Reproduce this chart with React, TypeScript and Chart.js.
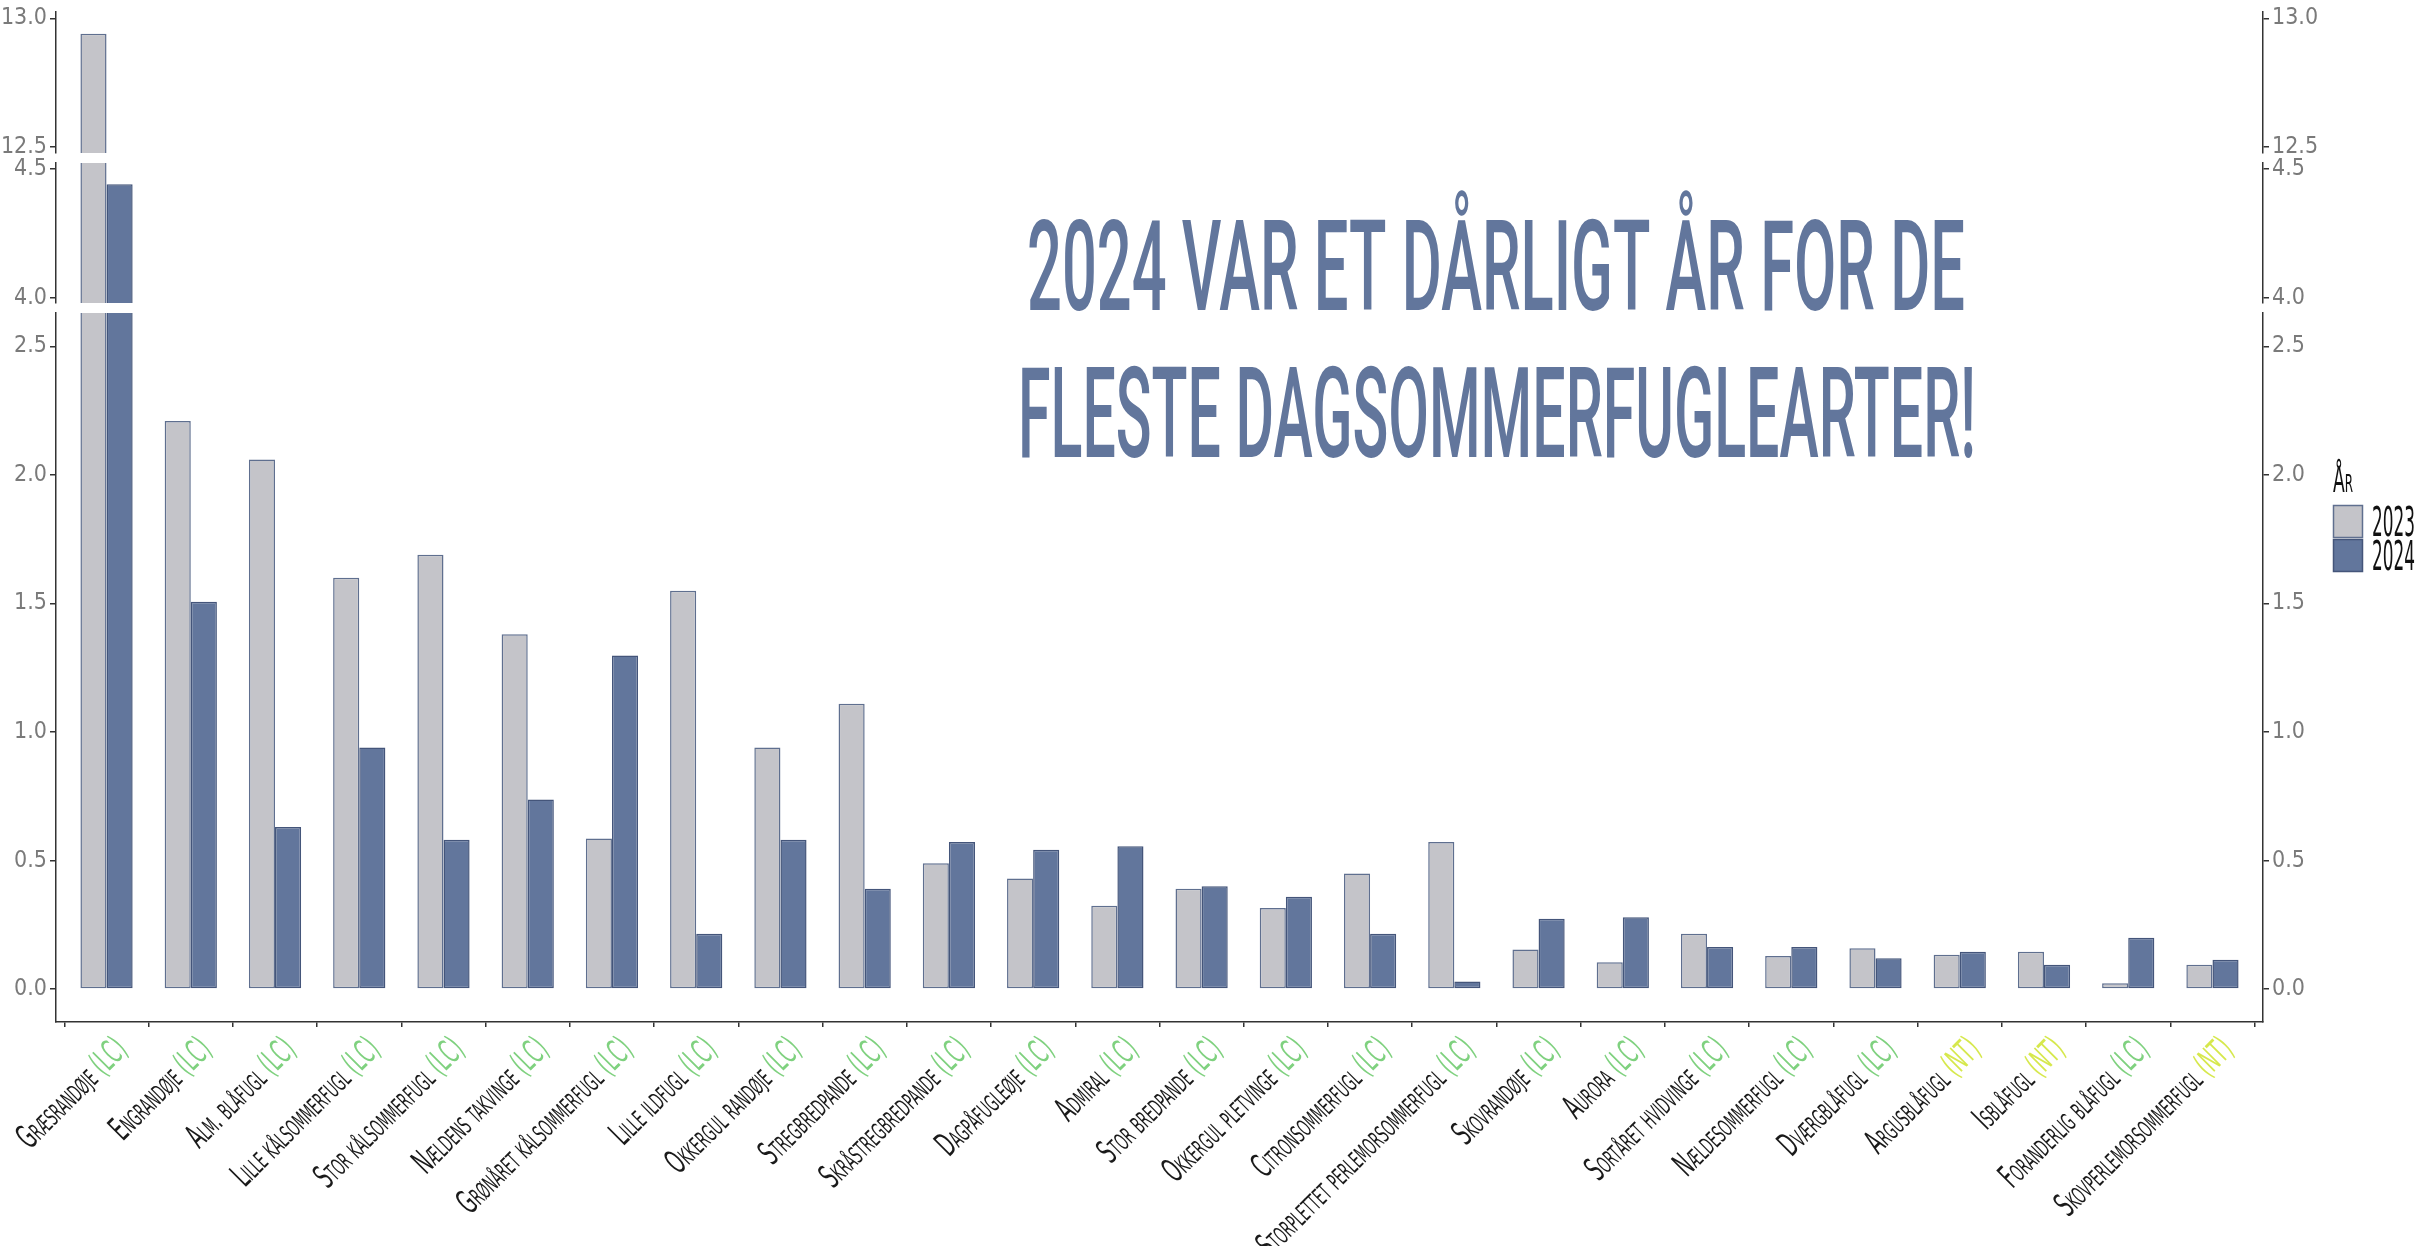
import React, { useEffect, useRef } from 'react';
import { Chart, registerables } from 'chart.js';

Chart.register(...registerables);

// ---------------- data ----------------
const categories = [
  'Græsrandøje', 'Engrandøje', 'Alm. blåfugl', 'Lille kålsommerfugl', 'Stor kålsommerfugl',
  'Nældens takvinge', 'Grønåret kålsommerfugl', 'Lille ildfugl', 'Okkergul randøje', 'Stregbredpande',
  'Skråstregbredpande', 'Dagpåfugleøje', 'Admiral', 'Stor bredpande', 'Okkergul pletvinge',
  'Citronsommerfugl', 'Storplettet perlemorsommerfugl', 'Skovrandøje', 'Aurora', 'Sortåret hvidvinge',
  'Nældesommerfugl', 'Dværgblåfugl', 'Argusblåfugl', 'Isblåfugl', 'Foranderlig blåfugl', 'Skovperlemorsommerfugl',
];
const redListStatus = [
  'LC', 'LC', 'LC', 'LC', 'LC', 'LC', 'LC', 'LC', 'LC', 'LC',
  'LC', 'LC', 'LC', 'LC', 'LC', 'LC', 'LC', 'LC', 'LC', 'LC',
  'LC', 'LC', 'NT', 'NT', 'LC', 'NT',
];
const values2023 = [
  12.94, 2.21, 2.06, 1.60, 1.69, 1.38, 0.586, 1.55, 0.94, 1.11,
  0.49, 0.43, 0.324, 0.39, 0.315, 0.45, 0.572, 0.154, 0.104, 0.215,
  0.129, 0.159, 0.134, 0.145, 0.023, 0.095,
];
const values2024 = [
  4.44, 1.507, 0.631, 0.94, 0.581, 0.738, 1.298, 0.215, 0.581, 0.39,
  0.572, 0.542, 0.556, 0.40, 0.359, 0.215, 0.03, 0.274, 0.279, 0.164,
  0.164, 0.12, 0.145, 0.095, 0.2, 0.114,
];
const years = ['2023', '2024'];
const legendTitle = 'År';
const topTicks = [12.5, 13.0];
const midTicks = [4.0, 4.5];
const bottomTicks = [0, 0.5, 1.0, 1.5, 2.0, 2.5];
const titleLines = ['2024 VAR ET DÅRLIGT ÅR FOR DE', 'FLESTE DAGSOMMERFUGLEARTER!'];

// ---------------- layout / style ----------------
const W = 2430;
const H = 1246;
const LEFT_AXIS_W = 56;
const PLOT_RIGHT = 2263;
const RIGHT_AXIS_W = 60;
const XAXIS_H = 10;
const AXIS_COLOR = '#333333';
const TICK_COLOR = '#7a7a7a';
const FILL = ['#c4c4c9', '#62769c'];
const BORDER = ['#5f6f8f', '#44557a'];
const TAG_COLOR: Record<string, string> = { LC: '#7fd17f', NT: '#d6e84c' };
const TITLE_COLOR = '#62769c';
const NARROW = '"Liberation Sans Narrow", "DejaVu Sans Condensed", "Roboto Condensed", sans-serif';
const TITLE_FONT = 'Roboto, "Open Sans", sans-serif';

const panels = [
  { key: 'top', min: 12.476, max: 13.0245, top: 12, bottom: 153, ticks: topTicks, isBottom: false },
  { key: 'mid', min: 3.979, max: 4.523, top: 163, bottom: 303, ticks: midTicks, isBottom: false },
  { key: 'bot', min: -0.128, max: 2.63, top: 313, bottom: 1022, ticks: bottomTicks, isBottom: true },
];

function drawNarrowText(ctx: any, text: string, x: number, y: number, targetW: number, align: string) {
  const w = ctx.measureText(text).width;
  const s = targetW / w;
  ctx.save();
  ctx.translate(x, y);
  ctx.scale(s, 1);
  ctx.textAlign = align;
  ctx.fillText(text, 0, 0);
  ctx.restore();
}

const decorPlugin = {
  id: 'decor',
  afterDraw(chart: any) {
    const ctx = chart.ctx;
    const xs = chart.scales.x;

    // ---- category labels (rotated, two-coloured) ----
    ctx.save();
    ctx.font = `34px ${NARROW}`;
    ctx.fontVariantCaps = 'small-caps';
    const refW = ctx.measureText('Græsrandøje (LC)').width;
    const sx = 140 / refW;
    const y0 = xs.top + 11;
    categories.forEach((name, i) => {
      const x = xs.getPixelForValue(i);
      const tag = ` (${redListStatus[i]})`;
      ctx.save();
      ctx.translate(x + 4, y0);
      ctx.rotate(-Math.PI / 4);
      ctx.scale(sx, 1);
      ctx.textAlign = 'right';
      ctx.textBaseline = 'top';
      ctx.fillStyle = TAG_COLOR[redListStatus[i]];
      ctx.fillText(tag, 0, 0);
      const tw = ctx.measureText(tag).width;
      ctx.fillStyle = '#1a1a1a';
      ctx.fillText(name, -tw, 0);
      ctx.restore();
    });
    ctx.fontVariantCaps = 'normal';
    ctx.restore();

    // ---- title annotation ----
    ctx.save();
    ctx.fillStyle = TITLE_COLOR;
    ctx.font = `500 126px ${TITLE_FONT}`;
    ctx.textBaseline = 'alphabetic';
    drawNarrowText(ctx, titleLines[0], 1496, 310, 938, 'center');
    drawNarrowText(ctx, titleLines[1], 1497, 457, 958, 'center');
    ctx.restore();

    // ---- legend ----
    ctx.save();
    ctx.fillStyle = '#111111';
    ctx.textBaseline = 'alphabetic';
    ctx.font = `36px ${NARROW}`;
    ctx.fontVariantCaps = 'small-caps';
    drawNarrowText(ctx, legendTitle, 2333, 492, 20, 'left');
    ctx.fontVariantCaps = 'normal';
    ctx.font = `40px ${NARROW}`;
    const keyTops = [505, 539];
    years.forEach((yr, k) => {
      ctx.fillStyle = FILL[k];
      ctx.fillRect(2333, keyTops[k], 30, 33);
      ctx.strokeStyle = BORDER[k];
      ctx.lineWidth = 1.5;
      ctx.strokeRect(2333.5, keyTops[k] + 0.5, 29, 32);
      ctx.fillStyle = '#111111';
      drawNarrowText(ctx, yr, 2372, keyTops[k] + 31, 43, 'left');
    });
    ctx.restore();
  },
};

function noPad(s: any) {
  s.paddingTop = 0;
  s.paddingBottom = 0;
  s.paddingLeft = 0;
  s.paddingRight = 0;
}

function buildConfig(panel: any) {
  const lo = Math.max(0, panel.min);
  const seg = (vals: number[]) => vals.map((v, i) => {
    const hi = Math.min(v, panel.max);
    return { x: i, y: hi > lo ? [lo, hi] : null };
  });
  const bw = (vals: number[]) => (c: any) => {
    const v = vals[c.dataIndex];
    return { left: 1.5, right: 1.5, top: v > panel.max ? 0 : 1.5, bottom: panel.min > 0 ? 0 : 1.5 };
  };
  const yAxis = (position: string, width: number) => ({
    type: 'linear',
    position,
    min: panel.min,
    max: panel.max,
    afterBuildTicks: (s: any) => { s.ticks = panel.ticks.map((v: number) => ({ value: v })); },
    afterFit: (s: any) => { s.width = width; noPad(s); },
    ticks: {
      callback: (v: any) => Number(v).toFixed(1),
      color: TICK_COLOR,
      font: { family: NARROW, size: 23 },
      padding: 3,
    },
    grid: { drawOnChartArea: false, drawTicks: true, tickLength: 6, color: AXIS_COLOR, lineWidth: 1.5 },
    border: { display: true, color: AXIS_COLOR, width: 1.5 },
  });
  return {
    type: 'bar',
    data: {
      datasets: [
        {
          label: years[0], data: seg(values2023), backgroundColor: FILL[0], borderColor: BORDER[0],
          borderWidth: bw(values2023), borderSkipped: false,
        },
        {
          label: years[1], data: seg(values2024), backgroundColor: FILL[1], borderColor: BORDER[1],
          borderWidth: bw(values2024), borderSkipped: false,
        },
      ],
    },
    options: {
      responsive: false,
      animation: false,
      devicePixelRatio: 1,
      layout: {
        autoPadding: false,
        padding: {
          left: 0,
          right: W - PLOT_RIGHT - RIGHT_AXIS_W,
          top: panel.top,
          bottom: panel.isBottom ? H - panel.bottom - XAXIS_H : H - panel.bottom,
        },
      },
      datasets: { bar: { categoryPercentage: 0.62, barPercentage: 1 } },
      plugins: { legend: { display: false }, tooltip: { enabled: false }, title: { display: false } },
      scales: {
        x: {
          type: 'linear',
          min: -0.6,
          max: 25.6,
          offset: false,
          display: panel.isBottom,
          afterBuildTicks: (s: any) => { s.ticks = categories.map((_, i) => ({ value: i })); },
          afterFit: (s: any) => { s.height = panel.isBottom ? XAXIS_H : 0; noPad(s); },
          ticks: { display: false },
          grid: { drawOnChartArea: false, drawTicks: true, tickLength: 5, color: AXIS_COLOR, lineWidth: 1.5 },
          border: { display: true, color: AXIS_COLOR, width: 1.5 },
        },
        y: yAxis('left', LEFT_AXIS_W),
        y2: yAxis('right', RIGHT_AXIS_W),
      },
    },
    plugins: panel.isBottom ? [decorPlugin] : [],
  };
}

function PanelChart({ panel }: { panel: any }) {
  const ref = useRef<HTMLCanvasElement | null>(null);
  useEffect(() => {
    if (!ref.current) return;
    const chart = new Chart(ref.current, buildConfig(panel) as any);
    return () => chart.destroy();
  }, [panel]);
  return (
    <canvas
      ref={ref}
      width={W}
      height={H}
      style={{ position: 'absolute', left: 0, top: 0, width: W, height: H }}
    />
  );
}

export default function App() {
  return (
    <div style={{ position: 'fixed', left: 0, top: 0, width: W, height: H, background: '#ffffff', overflow: 'hidden' }}>
      {panels.map((p) => <PanelChart key={p.key} panel={p} />)}
    </div>
  );
}
